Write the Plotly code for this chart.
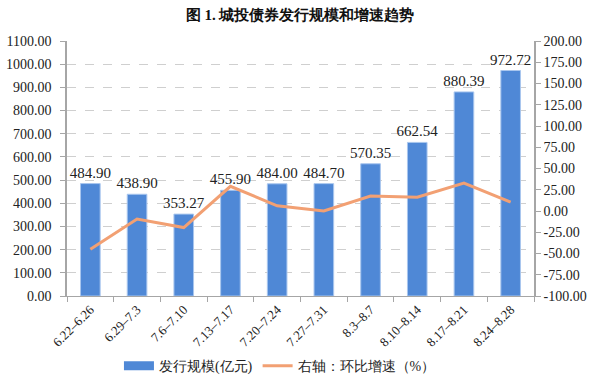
import plotly.graph_objects as go

categories = ["6.22–6.26", "6.29–7.3", "7.6–7.10", "7.13–7.17", "7.20–7.24",
              "7.27–7.31", "8.3–8.7", "8.10–8.14", "8.17–8.21", "8.24–8.28"]
issuance = [484.90, 438.90, 353.27, 455.90, 484.00, 484.70, 570.35, 662.54, 880.39, 972.72]
growth = [-45.0, -9.49, -19.51, 29.05, 6.16, 0.14, 17.67, 16.16, 32.88, 10.49]
left_ticks = [i * 100 for i in range(12)]
right_ticks = [-100 + 25 * i for i in range(13)]

SERIF = "Liberation Serif"
GRAY = "#a6a6a6"
BLUE = "#4f88d6"
ORANGE = "#f2a073"

fig = go.Figure()
fig.add_trace(go.Bar(
    x=categories, y=issuance, name="发行规模(亿元)", showlegend=False,
    marker=dict(color=BLUE, line=dict(color="#a9c6ee", width=1)),
    text=[f"{v:.2f}" for v in issuance], textposition="outside",
    textfont=dict(size=15, color="#222"),
    constraintext="none", cliponaxis=False,
))
# legend key drawn as a wide blue bar, like the original
fig.add_trace(go.Scatter(
    x=[None], y=[None], name="发行规模(亿元)", mode="lines",
    line=dict(color=BLUE, width=9), legendrank=1,
))
fig.add_trace(go.Scatter(
    x=categories, y=growth, name="右轴：环比增速（%）", yaxis="y2",
    mode="lines", line=dict(color=ORANGE, width=3), legendrank=2,
))

fig.update_layout(
    template="none",
    font=dict(family=SERIF, size=13, color="#222"),
    width=600, height=381,
    margin=dict(l=67, r=66, t=41, b=85, autoexpand=False),
    paper_bgcolor="white", plot_bgcolor="white",
    title=dict(text="<b>图 1. 城投债券发行规模和增速趋势</b>", x=0.5, xanchor="center",
               y=0.962, yanchor="middle",
               font=dict(size=15, color="#111")),
    bargap=0.58,
    showlegend=True,
    legend=dict(orientation="h", x=0.456, xanchor="center", y=-0.275, yanchor="middle",
                font=dict(size=14, color="#222"),
                itemwidth=30, tracegroupgap=0),
    xaxis=dict(
        tickangle=-45, tickfont=dict(size=13, color="#222"),
        showline=True, linecolor=GRAY, linewidth=1, mirror=False,
        ticks="outside", ticklen=5, tickcolor=GRAY, tickson="boundaries",
        showgrid=False, zeroline=False,
    ),
    yaxis=dict(
        range=[0, 1100], tickvals=left_ticks,
        ticktext=[f"{v:.2f}" for v in left_ticks],
        tickfont=dict(size=14, color="#222"),
        showline=True, linecolor=GRAY, linewidth=1.5,
        ticks="outside", ticklen=5, tickcolor=GRAY, ticklabelstandoff=6,
        showgrid=True, gridcolor="#cfcfcf", griddash="dash", gridwidth=1,
        zeroline=False,
    ),
    yaxis2=dict(
        range=[-100, 200], tickvals=right_ticks, overlaying="y", side="right",
        ticktext=[f"{v:.2f}" for v in right_ticks],
        tickfont=dict(size=14, color="#222"),
        showline=True, linecolor=GRAY, linewidth=1.5,
        ticks="outside", ticklen=5, tickcolor=GRAY,
        showgrid=False, zeroline=False,
    ),
)

fig.write_html("out.html", config={"displayModeBar": False},
               post_script="document.body.style.margin='0';document.body.style.overflow='hidden';")
